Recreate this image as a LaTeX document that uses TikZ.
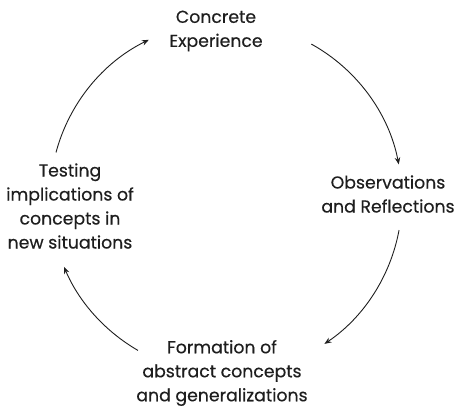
\documentclass[tikz,border=0pt]{standalone}
\usepackage{fontspec}
\newfontfamily\stagefont{Poppins}[RawFeature={embolden=0.4}]
\usetikzlibrary{arrows.meta,calc}
\definecolor{ink}{HTML}{1E1E1E}
\begin{document}
\begin{tikzpicture}[x=1pt,y=1pt,
  stage/.style={align=center, text=ink, font=\stagefont\fontsize{17.3}{24}\selectfont, inner sep=0pt},
  cycle/.style={draw=ink, line width=0.9pt, -{Stealth[length=7pt,width=5.5pt]}}]
  \useasboundingbox (0,0) rectangle (457,410);
  % stages of the learning cycle
  \node[stage] (ce) at (216,379) {Concrete\\Experience};
  \node[stage] (or) at (388,216) {Observations\\and Reflections};
  \node[stage] (fa) at (222,37) {Formation of\\abstract concepts\\and generalizations};
  \node[stage] (tn) at (70,204) {Testing\\implications of\\concepts in\\new situations};
  % arcs of the cycle, on one circle
  \coordinate (o) at (226,212);
  \coordinate (a1) at ($(o)+(61:176)$);
  \draw[cycle] (a1) arc[start angle=61, end angle=11, radius=176];
  \coordinate (a2) at ($(o)+(-10.5:176)$);
  \draw[cycle] (a2) arc[start angle=-10.5, end angle=-56, radius=176];
  \coordinate (a3) at ($(o)+(-120:176)$);
  \draw[cycle] (a3) arc[start angle=-120, end angle=-157, radius=176];
  \coordinate (a4) at ($(o)+(165:176)$);
  \draw[cycle] (a4) arc[start angle=165, end angle=116, radius=176];
\end{tikzpicture}
\end{document}
